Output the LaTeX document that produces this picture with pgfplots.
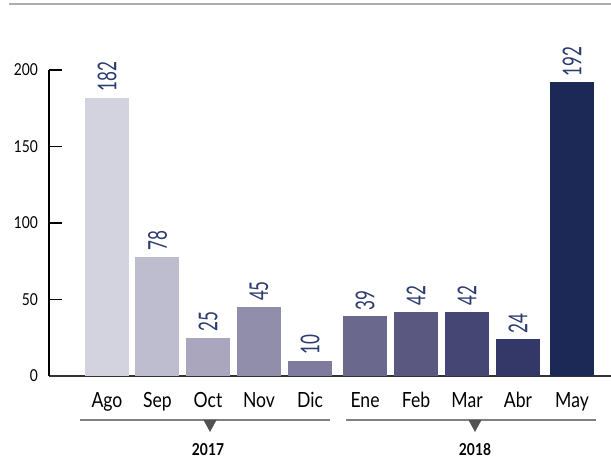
\documentclass[border=0pt]{standalone}
\usepackage{pgfplots}
\pgfplotsset{compat=1.18}
\usepackage{fontspec}
\setmainfont{Lato}[FakeStretch=0.84]
\newfontfamily\lblfont{Lato}[FakeStretch=0.66]
\definecolor{cAgo}{HTML}{D3D2DF}
\definecolor{cSep}{HTML}{BEBCCF}
\definecolor{cOct}{HTML}{A9A6BE}
\definecolor{cNov}{HTML}{918EAC}
\definecolor{cDic}{HTML}{7F7B9E}
\definecolor{cEne}{HTML}{6B688E}
\definecolor{cFeb}{HTML}{5A5780}
\definecolor{cMar}{HTML}{464675}
\definecolor{cAbr}{HTML}{333868}
\definecolor{cMay}{HTML}{1C2856}
\definecolor{lblnavy}{HTML}{2B3B70}
\begin{document}
\begin{tikzpicture}
\useasboundingbox (0,0) rectangle (611bp,458bp);
\draw[color=black!32, line width=1.5bp] (9bp,454bp) -- (611bp,454bp);
\begin{axis}[
  at={(49bp,82bp)}, anchor=south west,
  scale only axis, width=562bp, height=306bp,
  xmin=-1.137, xmax=9.882, ymin=0, ymax=200,
  axis lines*=left,
  x axis line style={draw=black!80, line width=1.5bp},
  y axis line style={draw=black, line width=1.1bp},
  ytick={0,50,100,150,200},
  xtick={0,0.99,1.98,2.98,3.98,5.059,6.059,7.059,8.059,9.118},
  xticklabels={Ago,Sep,Oct,Nov,Dic,Ene,Feb,Mar,Abr,May},
  tick align=inside, major tick length=13bp,
  ytick style={draw=black, line width=1.1bp},
  xtick style={draw=none},
  /pgf/number format/assume math mode=true,
  yticklabel style={font=\fontsize{16.5}{18}\selectfont, inner sep=0pt, xshift=-11bp, anchor=east},
  xticklabel style={font=\fontsize{21}{23}\selectfont, inner sep=0pt, yshift=-3bp, anchor=north},
  ybar, bar width=44bp,
  nodes near coords,
  nodes near coords style={font=\lblfont\fontsize{26}{28}\selectfont, text=lblnavy, yshift=6bp, rotate=90, anchor=west, inner sep=0pt},
  clip=false,
]
\addplot[fill=cAgo, draw=none, bar shift=0pt] coordinates {(0,182)};
\addplot[fill=cSep, draw=none, bar shift=0pt] coordinates {(0.99,78)};
\addplot[fill=cOct, draw=none, bar shift=0pt] coordinates {(1.98,25)};
\addplot[fill=cNov, draw=none, bar shift=0pt] coordinates {(2.98,45)};
\addplot[fill=cDic, draw=none, bar shift=0pt] coordinates {(3.98,10)};
\addplot[fill=cEne, draw=none, bar shift=0pt] coordinates {(5.059,39)};
\addplot[fill=cFeb, draw=none, bar shift=0pt] coordinates {(6.059,42)};
\addplot[fill=cMar, draw=none, bar shift=0pt] coordinates {(7.059,42)};
\addplot[fill=cAbr, draw=none, bar shift=0pt] coordinates {(8.059,24)};
\addplot[fill=cMay, draw=none, bar shift=0pt] coordinates {(9.118,192)};
\end{axis}
\draw[color=black!50, line width=2bp] (80bp,38bp) -- (330bp,38bp);
\draw[color=black!50, line width=2bp] (346bp,38bp) -- (596bp,38bp);
\fill[black!68] (203.5bp,38bp) -- (216.5bp,38bp) -- (210bp,26bp) -- cycle;
\fill[black!68] (468.5bp,38bp) -- (481.5bp,38bp) -- (475bp,26bp) -- cycle;
\node[font=\bfseries\fontsize{16.5}{18}\selectfont, inner sep=0pt] at (208bp,8.5bp) {2017};
\node[font=\bfseries\fontsize{16.5}{18}\selectfont, inner sep=0pt] at (475bp,8.5bp) {2018};
\end{tikzpicture}
\end{document}
